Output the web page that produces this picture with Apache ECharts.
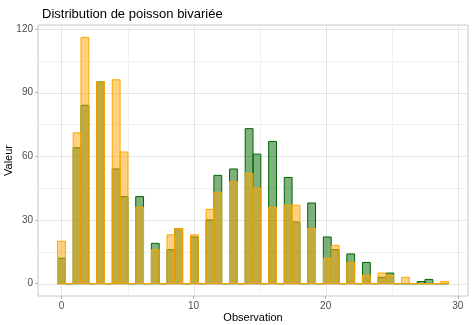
<!DOCTYPE html>
<html>
<head>
<meta charset="utf-8">
<script src="https://cdn.jsdelivr.net/npm/echarts@6/dist/echarts.min.js"></script>
<style>
  html, body { margin: 0; padding: 0; background: #ffffff; }
  #chart { width: 474px; height: 325px; }
</style>
</head>
<body>
<div id="chart"></div>
<script>
// Observed values 0..29 and how many times each occurred, per series
const observations = [0,1,2,3,4,5,6,7,8,9,10,11,12,13,14,15,16,17,18,19,20,21,22,23,24,25,26,27,28,29];
const countsGreen  = [12,64,84,95,54,41,41,19,16,26,22,30,51,54,73,61,67,50,29,38,22,16,14,10,3,5,0,1,2,0];
const countsOrange = [20,71,116,95,96,62,36,16,23,26,23,35,43,48,52,45,36,37,37,26,12,18,10,4,5,4,3,0,0,1];

// Axis tick labels and minor grid positions
const xTicks = [0, 10, 20, 30];
const xMinor = [5, 15, 25];
const yTicks = [0, 30, 60, 90, 120];
const yMinor = [15, 45, 75, 105];

const binCount = 50;

// Histogram binning: bins of equal width centred on multiples of the width
const lo = Math.min(...observations), hi = Math.max(...observations);
const binWidth = (hi - lo) / (binCount - 1);

function binned(counts) {
  const bins = new Array(binCount).fill(0);
  observations.forEach((v, i) => {
    const k = Math.round((v - lo) / binWidth);
    bins[k] += counts[i];
  });
  return bins.map((c, k) => [lo + k * binWidth, c]);
}

const greenBins = binned(countsGreen);
const orangeBins = binned(countsOrange);

const xLo = lo - binWidth / 2, xHi = hi + binWidth / 2;
const xPad = (xHi - xLo) * 0.05;
const yMax = Math.max(...countsGreen, ...countsOrange);
const yPad = yMax * 0.05;

const FONT = '"Liberation Sans", Arial, Helvetica, sans-serif';

function barRenderer(fill, stroke) {
  return function (params, api) {
    const c = api.value(0), v = api.value(1);
    const p0 = api.coord([c - binWidth / 2, 0]);
    const p1 = api.coord([c + binWidth / 2, v]);
    return {
      type: 'rect',
      shape: { x: p0[0], y: p1[1], width: p1[0] - p0[0], height: p0[1] - p1[1] },
      style: { fill: fill, stroke: stroke, lineWidth: 1 }
    };
  };
}

// Grid lines drawn through the axis scales
function gridRenderer(dim, color) {
  return function (params, api) {
    const cs = params.coordSys;
    const v = api.value(0);
    let shape;
    if (dim === 'x') {
      const x = Math.round(api.coord([v, 0])[0]) + 0.5;
      shape = { x1: x, y1: cs.y, x2: x, y2: cs.y + cs.height };
    } else {
      const y = Math.round(api.coord([0, v])[1]) + 0.5;
      shape = { x1: cs.x, y1: y, x2: cs.x + cs.width, y2: y };
    }
    return { type: 'line', shape: shape, style: { stroke: color, lineWidth: 1 } };
  };
}

const chart = echarts.init(document.getElementById('chart'), null, { renderer: 'canvas' });

chart.setOption({
  animation: false,
  backgroundColor: '#ffffff',
  title: {
    text: 'Distribution de poisson bivariée',
    left: 37,
    top: 3,
    textStyle: { fontFamily: FONT, fontSize: 13, fontWeight: 'normal', color: '#000000' }
  },
  grid: {
    left: 38, right: 6, top: 25, bottom: 29,
    containLabel: false,
    outerBoundsMode: 'none',
    show: true, borderColor: '#c6c6c6', borderWidth: 1, backgroundColor: 'transparent'
  },
  xAxis: {
    type: 'value',
    min: xLo - xPad,
    max: xHi + xPad,
    name: 'Observation',
    nameLocation: 'middle',
    nameGap: 16,
    nameMoveOverlap: false,
    nameTextStyle: { fontFamily: FONT, fontSize: 11, color: '#000000' },
    axisLine: { show: false, onZero: false },
    splitLine: { show: false },
    axisTick: { show: true, length: 3, customValues: xTicks, lineStyle: { color: '#b3b3b3' } },
    axisLabel: { customValues: xTicks, margin: 5, fontFamily: FONT, fontSize: 10, color: '#4d4d4d' }
  },
  yAxis: {
    type: 'value',
    min: -yPad,
    max: yMax + yPad,
    name: 'Valeur',
    nameLocation: 'middle',
    nameGap: 24,
    nameRotate: 90,
    nameMoveOverlap: false,
    nameTextStyle: { fontFamily: FONT, fontSize: 11, color: '#000000' },
    axisLine: { show: false, onZero: false },
    splitLine: { show: false },
    axisTick: { show: true, length: 3, customValues: yTicks, lineStyle: { color: '#b3b3b3' } },
    axisLabel: { customValues: yTicks, margin: 5, fontFamily: FONT, fontSize: 10, color: '#4d4d4d' }
  },
  series: [
    { type: 'custom', silent: true, z: 0, renderItem: gridRenderer('x', '#f1f1f1'), data: xMinor.map(v => [v]), encode: { x: 0 } },
    { type: 'custom', silent: true, z: 0, renderItem: gridRenderer('y', '#f1f1f1'), data: yMinor.map(v => [v]), encode: { y: 0 } },
    { type: 'custom', silent: true, z: 1, renderItem: gridRenderer('x', '#e4e4e4'), data: xTicks.map(v => [v]), encode: { x: 0 } },
    { type: 'custom', silent: true, z: 1, renderItem: gridRenderer('y', '#e4e4e4'), data: yTicks.map(v => [v]), encode: { y: 0 } },
    {
      name: 'vert', type: 'custom', z: 2,
      renderItem: barRenderer('rgba(0,100,0,0.5)', '#006400'),
      data: greenBins, encode: { x: 0, y: 1 }
    },
    {
      name: 'orange', type: 'custom', z: 3,
      renderItem: barRenderer('rgba(255,165,0,0.5)', '#ffa500'),
      data: orangeBins, encode: { x: 0, y: 1 }
    }
  ]
});
</script>
</body>
</html>
